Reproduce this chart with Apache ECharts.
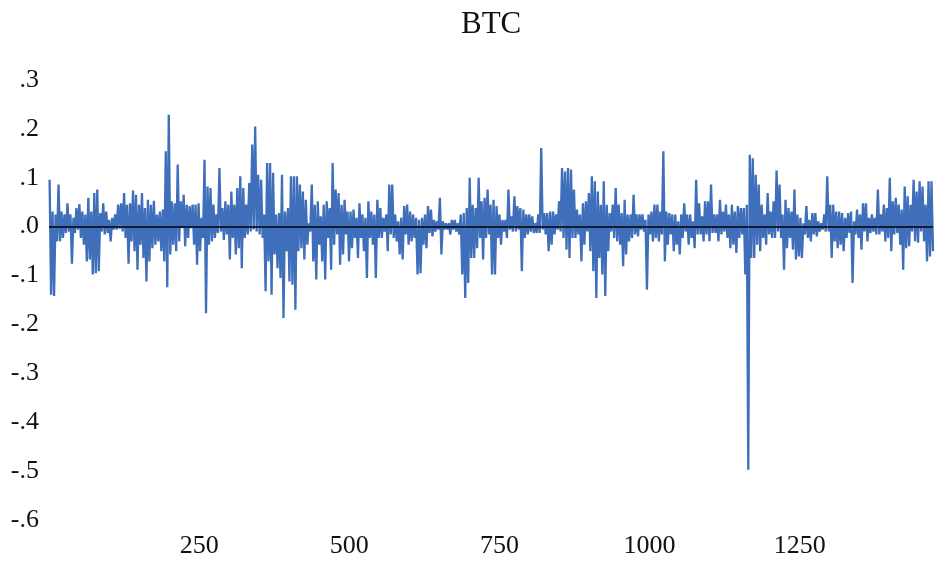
<!DOCTYPE html>
<html>
<head>
<meta charset="utf-8">
<script src="https://cdn.jsdelivr.net/npm/echarts@6/dist/echarts.min.js"></script>
<style>html,body{margin:0;padding:0;background:#fff}#c{width:951px;height:562px}</style>
</head>
<body>
<div id="c"></div>
<script>
const chartTitle = 'BTC';
const firstObs = 1;
const lastObs = 1472;
const xTickValues = [250, 500, 750, 1000, 1250];
const yMin = -0.6, yMax = 0.3, yStep = 0.1;

// Envelope of the return series, read left to right: for each small run of
// observations the highest and lowest return drawn.
const highs = [
  0.096,0.031,0.025,0.086,0.031,0.025,0.048,0.025,0.018,0.038,0.046,0.031,0.025,0.059,0.031,0.069,0.076,0.028,0.048,0.031,0.014,0.018,
  0.025,0.045,0.048,0.069,0.045,0.048,0.074,0.065,0.045,0.069,0.038,0.055,0.045,0.053,0.025,0.031,0.035,0.154,0.229,0.052,0.048,0.127,0.052,0.065,0.045,0.042,
  0.045,0.045,0.048,0.018,0.137,0.082,0.079,0.045,0.025,0.120,0.038,0.052,0.045,0.072,0.045,0.079,0.103,0.079,0.045,0.089,0.168,0.205,0.106,0.096,0.025,0.130,
  0.130,0.110,0.025,0.028,0.106,0.031,0.038,0.103,0.103,0.103,0.086,0.072,0.055,0.007,0.086,0.045,0.052,0.021,0.045,0.052,0.038,0.130,0.076,0.069,0.045,
  0.055,0.031,0.031,0.035,0.018,0.048,0.025,0.018,0.052,0.031,0.025,0.055,0.038,0.018,0.025,0.086,0.086,0.025,0.011,0.018,0.042,0.045,0.031,0.025,0.018,
  0.014,0.018,0.025,0.042,0.035,0.014,0.011,0.059,0.011,0.007,0.007,0.014,0.014,0.007,0.025,0.028,0.038,0.100,0.045,0.038,0.100,0.052,0.059,0.076,0.045,
  0.055,0.042,0.025,0.014,0.014,0.076,0.021,0.062,0.042,0.038,0.035,0.025,0.025,0.021,0.007,0.025,0.161,0.028,0.028,0.031,0.031,0.025,0.052,0.120,0.113,
  0.120,0.117,0.076,0.035,0.025,0.048,0.052,0.069,0.103,0.093,0.072,0.045,0.093,0.045,0.028,0.045,0.079,0.045,0.028,0.055,0.025,0.025,0.065,0.025,0.025,
  0.025,0.014,0.025,0.031,0.045,0.045,0.031,0.154,0.031,0.028,0.025,0.025,0.011,0.025,0.048,0.025,0.025,0.011,0.096,0.048,0.021,0.052,0.052,0.086,0.025,
  0.025,0.055,0.031,0.045,0.025,0.045,0.031,0.042,0.038,0.038,0.045,0.147,0.140,0.106,0.086,0.045,0.025,0.069,0.031,0.052,0.115,0.086,0.025,0.055,0.038,
  0.031,0.076,0.025,0.018,0.007,0.042,0.014,0.028,0.028,0.011,0.007,0.025,0.103,0.045,0.045,0.031,0.031,0.028,0.018,0.028,0.031,0.011,0.035,0.025,0.048,
  0.048,0.018,0.025,0.018,0.076,0.025,0.045,0.038,0.100,0.052,0.059,0.045,0.035,0.082,0.062,0.045,0.096,0.072,0.093,0.082,0.045,0.093,0.093
];
const lows = [
  -0.139,-0.142,-0.030,-0.030,-0.023,-0.013,-0.010,-0.076,-0.013,-0.006,-0.023,-0.037,-0.071,-0.067,-0.098,-0.095,-0.091,-0.010,-0.016,-0.013,-0.030,-0.006,
  -0.006,-0.004,-0.010,-0.023,-0.076,-0.030,-0.050,-0.088,-0.037,-0.064,-0.112,-0.071,-0.044,-0.037,-0.030,-0.050,-0.071,-0.124,-0.057,-0.037,-0.050,-0.030,-0.003,-0.040,-0.023,-0.003,
  -0.037,-0.078,-0.050,-0.023,-0.177,-0.037,-0.030,-0.023,-0.013,-0.010,-0.027,-0.016,-0.067,-0.023,-0.057,-0.044,-0.085,-0.023,-0.016,-0.010,-0.006,-0.010,-0.016,-0.023,-0.132,-0.071,
  -0.139,-0.057,-0.085,-0.105,-0.187,-0.050,-0.112,-0.119,-0.170,-0.050,-0.044,-0.067,-0.037,-0.010,-0.071,-0.108,-0.037,-0.071,-0.108,-0.023,-0.088,-0.037,-0.016,-0.078,-0.057,
  -0.016,-0.071,-0.044,-0.023,-0.064,-0.023,-0.050,-0.105,-0.023,-0.037,-0.105,-0.023,-0.023,-0.010,-0.050,-0.016,-0.023,-0.030,-0.057,-0.067,-0.016,-0.037,-0.030,-0.023,-0.098,
  -0.095,-0.037,-0.044,-0.013,-0.020,-0.010,-0.006,-0.057,-0.006,-0.006,-0.016,-0.006,-0.010,-0.016,-0.098,-0.146,-0.115,-0.064,-0.064,-0.044,-0.023,-0.067,-0.023,-0.016,-0.098,
  -0.098,-0.023,-0.037,-0.010,-0.023,-0.006,-0.010,-0.010,-0.006,-0.091,-0.023,-0.016,-0.010,-0.013,-0.013,-0.013,-0.006,-0.016,-0.050,-0.037,-0.016,-0.006,-0.010,-0.023,-0.047,
  -0.064,-0.023,-0.023,-0.016,-0.071,-0.037,-0.010,-0.050,-0.091,-0.146,-0.064,-0.098,-0.142,-0.050,-0.010,-0.023,-0.030,-0.037,-0.081,-0.057,-0.030,-0.023,-0.016,-0.020,-0.006,
  -0.010,-0.129,-0.016,-0.030,-0.023,-0.030,-0.016,-0.071,-0.037,-0.016,-0.050,-0.037,-0.057,-0.023,-0.010,-0.037,-0.023,-0.044,-0.016,-0.016,-0.030,-0.016,-0.030,-0.013,-0.013,
  -0.030,-0.016,-0.010,-0.023,-0.044,-0.037,-0.054,-0.023,-0.016,-0.098,-0.497,-0.064,-0.064,-0.037,-0.050,-0.023,-0.037,-0.016,-0.023,-0.023,-0.010,-0.023,-0.088,-0.044,-0.023,
  -0.047,-0.067,-0.061,-0.064,-0.016,-0.023,-0.030,-0.016,-0.020,-0.010,-0.006,-0.010,-0.010,-0.064,-0.030,-0.044,-0.037,-0.050,-0.023,-0.013,-0.115,-0.016,-0.023,-0.047,-0.010,
  -0.030,-0.013,-0.010,-0.016,-0.016,-0.010,-0.030,-0.023,-0.050,-0.016,-0.013,-0.037,-0.088,-0.044,-0.040,-0.010,-0.030,-0.033,-0.010,-0.030,-0.071,-0.061,-0.050
];

// interleave highs and lows into one ordered return series
const returns = [];
for (let i = 0; i < highs.length; i++) { returns.push(highs[i]); returns.push(lows[i]); }
const stepObs = (lastObs - firstObs) / (returns.length - 1);
const seriesData = returns.map((v, i) => [firstObs + i * stepObs, v]);

const serif = '"Liberation Serif", "DejaVu Serif", serif';
const chart = echarts.init(document.getElementById('c'), null, { renderer: 'canvas' });
chart.setOption({
  animation: false,
  backgroundColor: '#ffffff',
  title: {
    text: chartTitle,
    left: 456, top: 4,
    textStyle: { fontFamily: serif, fontSize: 31, fontWeight: 'normal', color: '#111' }
  },
  grid: { left: 49, right: 18, top: 80, bottom: 42, containLabel: false },
  xAxis: {
    type: 'value', min: 0, max: lastObs, interval: 250,
    axisLine: { show: false }, axisTick: { show: false }, splitLine: { show: false },
    axisLabel: {
      margin: 13, fontFamily: serif, fontSize: 26, color: '#111',
      showMaxLabel: false, showMinLabel: false,
      formatter: v => xTickValues.includes(v) ? String(v) : ''
    }
  },
  yAxis: {
    type: 'value', min: yMin, max: yMax, interval: yStep,
    axisLine: { show: false }, axisTick: { show: false }, splitLine: { show: false },
    axisLabel: {
      margin: 10, fontFamily: serif, fontSize: 26, color: '#111',
      formatter: v => (Math.round(v * 10) / 10).toFixed(1).replace('0.', '.')
    }
  },
  series: [{
    type: 'line',
    data: seriesData,
    showSymbol: false,
    symbol: 'none',
    lineStyle: { color: '#3F6EBB', width: 2.3 },
    silent: true,
    markLine: {
      silent: true, symbol: 'none', label: { show: false },
      lineStyle: { color: '#000', width: 1.5, type: 'solid' },
      data: [{ yAxis: 0 }]
    }
  }]
});
</script>
</body>
</html>
